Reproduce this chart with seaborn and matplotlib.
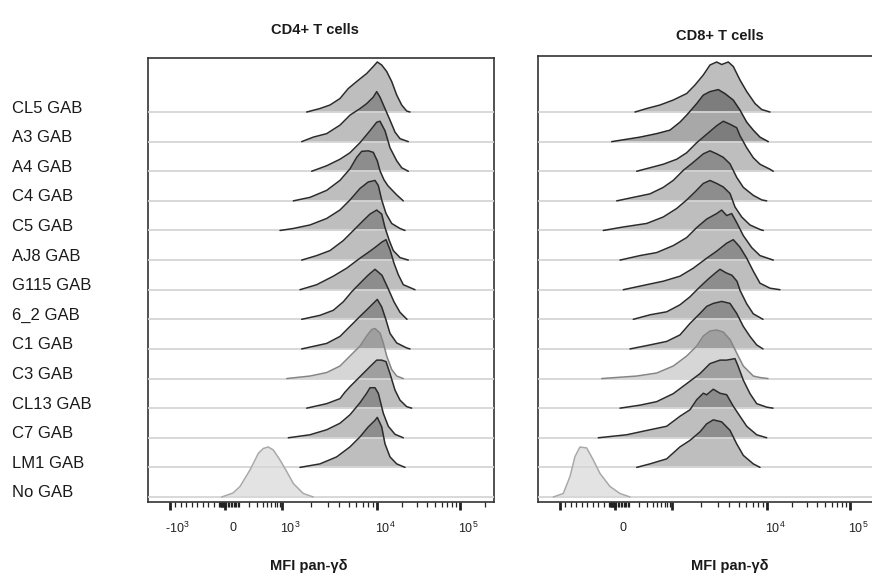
import numpy as np
import matplotlib
matplotlib.use("Agg")
import matplotlib.pyplot as plt
import matplotlib.transforms as mtransforms
import seaborn as sns

# ---------------- data ----------------
samples = ["CL5 GAB", "A3 GAB", "A4 GAB", "C4 GAB", "C5 GAB", "AJ8 GAB", "G115 GAB",
           "6_2 GAB", "C1 GAB", "C3 GAB", "CL13 GAB", "C7 GAB", "LM1 GAB", "No GAB"]
panel_titles = ["CD4+ T cells", "CD8+ T cells"]
x_title = "MFI pan-γδ"

major_tick_values = [-1000, 0, 1000, 10000, 100000]
cd4_tick_labels = [r"-$\mathregular{10^{3}}$", "0", r"$\mathregular{10^{3}}$",
                   r"$\mathregular{10^{4}}$", r"$\mathregular{10^{5}}$"]
cd8_tick_labels = ["", "0", "", r"$\mathregular{10^{4}}$", r"$\mathregular{10^{5}}$"]
minor_tick_values = ([-900, -800, -700, -600, -500, -400, -300, -200, -100]
                     + [-90, -80, -70, -60, -50, -40, -30, -20, -10]
                     + [10, 20, 30, 40, 50, 60, 70, 80, 90]
                     + [100, 200, 300, 400, 500, 600, 700, 800, 900]
                     + [2000, 3000, 4000, 5000, 6000, 7000, 8000, 9000]
                     + [20000, 30000, 40000, 50000, 60000, 70000, 80000, 90000, 200000])

# histogram outlines (display channel, % of mode), one list per sample, top row first
cd4_x = [
    [158.7, 172, 182, 192, 200.3, 208.7, 218.7, 225.3, 229.3, 233.7, 238.7, 243.7, 248.7, 253.7, 258.7, 262],
    [153.7, 165.3, 178.7, 192, 202, 212, 218.7, 225.3, 228.7, 232, 237, 242, 247, 252, 260.3],
    [163.7, 178.7, 192, 202, 212, 222, 228.7, 232, 237, 242, 248.7, 253.7, 260.3],
    [145.3, 162, 178.7, 192, 202, 208.7, 213.7, 220.3, 225.3, 229.3, 232, 236, 240, 248.7, 255.3],
    [132, 145.3, 162, 178.7, 192, 202, 212, 220.3, 227, 230.3, 233.7, 238, 243.7, 252, 257],
    [153.7, 168.7, 182, 195.3, 205.3, 215.3, 222, 228.7, 233.7, 237, 241.3, 245.3, 252, 260.3],
    [152, 168.7, 185.3, 198.7, 212, 222, 228.7, 233.7, 238, 242, 246, 250.3, 255.3, 267],
    [153.7, 172, 185.3, 195.3, 203.7, 212, 220, 227, 234, 240, 246, 252, 259],
    [153.7, 178.7, 192, 202, 212, 218.7, 225.3, 229.3, 233.7, 238, 242, 248.7, 258.7, 262],
    [138.7, 162, 178.7, 192, 202, 212, 218.7, 223.7, 227, 232, 235.3, 238.7, 243.7, 248.7, 255.3],
    [158.7, 178.7, 192, 197, 202, 212, 222, 228.7, 233.7, 238, 242, 247, 252, 258.7, 263.7],
    [140.3, 162, 178.7, 192, 202, 212, 218.7, 222, 227, 230.3, 235.3, 240.3, 247, 255.3],
    [152, 172, 188.7, 202, 212, 220.3, 227, 229.3, 233.7, 237, 242, 248.7, 257],
    [73.7, 85, 92, 102, 110.3, 115.3, 120.3, 125.3, 132, 138.7, 145.3, 155.3, 165.3],
]
cd4_h = [
    [0, 7, 14, 27, 47, 61, 77, 91, 100, 94, 81, 61, 34, 14, 2, 0],
    [0, 9, 16, 33, 53, 66, 76, 89, 100, 89, 66, 43, 19, 6, 0],
    [0, 11, 24, 37, 57, 81, 98, 100, 81, 47, 21, 7, 0],
    [0, 7, 21, 41, 64, 87, 99, 100, 97, 80, 60, 42, 30, 12, 0],
    [0, 4, 11, 24, 41, 61, 84, 97, 100, 90, 61, 34, 14, 4, 0],
    [0, 9, 19, 39, 59, 79, 92, 100, 92, 65, 39, 19, 5, 0],
    [0, 10, 27, 43, 63, 77, 87, 95, 100, 80, 53, 30, 10, 0],
    [0, 8, 18, 35, 55, 72, 88, 100, 88, 62, 35, 14, 0],
    [0, 11, 25, 45, 65, 78, 91, 99, 84, 58, 31, 12, 2, 0],
    [0, 5, 12, 25, 45, 65, 85, 98, 100, 91, 71, 45, 18, 5, 0],
    [0, 9, 19, 32, 43, 63, 83, 96, 96, 93, 69, 36, 16, 3, 0],
    [0, 6, 16, 29, 46, 70, 89, 100, 100, 89, 49, 23, 7, 0],
    [0, 7, 21, 41, 61, 81, 94, 100, 81, 47, 21, 7, 0],
    [0, 8, 21, 54, 87, 97, 100, 94, 74, 51, 27, 7, 0],
]
cd8_x = [
    [97, 108.7, 122, 135.3, 148.7, 157, 165.3, 172, 178.7, 183.7, 190.3, 195.3, 202, 208.7, 217, 223.7, 232],
    [73.7, 102, 118.7, 132, 142, 148.7, 158.7, 165.3, 172, 180.3, 187, 195.3, 202, 208.7, 215.3, 222, 230.3],
    [98.7, 112, 125.3, 138.7, 148.7, 158.7, 168.7, 178.7, 185.3, 192, 198.7, 202, 208.7, 215.3, 222, 232, 235.3],
    [78.7, 95.3, 112, 125.3, 135.3, 145.3, 155.3, 165.3, 172, 178.7, 185.3, 192, 198.7, 205.3, 215.3, 223.7, 228.7],
    [65.3, 85.3, 108.7, 125.3, 138.7, 148.7, 157, 165.3, 172, 178.7, 185.3, 192, 197, 203.7, 212, 222, 225.3],
    [82, 102, 118.7, 135.3, 148.7, 158.7, 168.7, 178.7, 183.7, 188.7, 193.7, 198.7, 205.3, 213.7, 222, 235.3],
    [85.3, 108.7, 125.3, 142, 155.3, 168.7, 178.7, 188.7, 195.3, 202, 208.7, 215.3, 222, 232, 242],
    [95.3, 112, 128.7, 142, 152, 162, 170, 177, 182, 188, 194, 199, 202, 208.7, 215.3, 225],
    [92, 112, 128.7, 142, 152, 162, 168.7, 175.3, 183.7, 192, 198.7, 205.3, 212, 218.7, 225],
    [63.7, 98.7, 118.7, 135.3, 148.7, 158.7, 165.3, 172, 178.7, 185.3, 192, 198.7, 205.3, 215.3, 222, 230],
    [82, 102, 118.7, 135.3, 148.7, 162, 172, 182, 188.7, 197, 200.3, 205.3, 212, 218.7, 228.7, 235],
    [60.3, 88.7, 112, 128.7, 142, 152, 158.7, 165.3, 168.7, 175.3, 182, 188.7, 195.3, 202, 208.7, 218.7, 228.7],
    [98.7, 112, 128.7, 142, 152, 162, 168.7, 175.3, 183.7, 192, 198.7, 205.3, 215.3, 222],
    [15.3, 25.3, 32, 37, 42, 48.7, 55.3, 62, 72, 82, 92],
]
cd8_h = [
    [0, 7, 14, 24, 37, 54, 74, 94, 100, 95, 100, 91, 64, 41, 17, 5, 0],
    [0, 9, 16, 23, 39, 53, 76, 93, 100, 104, 96, 83, 63, 39, 23, 9, 0],
    [0, 7, 14, 24, 37, 57, 74, 91, 100, 94, 87, 71, 47, 27, 14, 4, 0],
    [0, 7, 14, 27, 41, 61, 77, 94, 100, 94, 87, 74, 47, 27, 11, 2, 0],
    [0, 7, 14, 27, 44, 61, 77, 94, 100, 94, 87, 74, 47, 27, 11, 2, 0],
    [0, 9, 15, 29, 45, 65, 82, 93, 100, 89, 93, 75, 49, 25, 9, 0],
    [0, 10, 17, 27, 43, 63, 77, 93, 100, 85, 63, 37, 13, 3, 0],
    [0, 9, 15, 29, 45, 65, 80, 92, 100, 93, 88, 76, 58, 31, 11, 0],
    [0, 8, 15, 28, 51, 71, 85, 91, 95, 91, 71, 45, 25, 8, 0],
    [0, 5, 11, 25, 45, 65, 85, 95, 97, 93, 78, 51, 25, 5, 2, 0],
    [0, 6, 13, 29, 49, 69, 89, 96, 96, 99, 83, 56, 29, 9, 2, 0],
    [0, 6, 16, 23, 43, 56, 76, 89, 86, 97, 89, 86, 63, 43, 23, 6, 0],
    [0, 7, 17, 41, 54, 71, 87, 95, 91, 74, 47, 24, 7, 0],
    [0, 7, 41, 81, 100, 98, 74, 47, 21, 7, 0],
]
light_samples = ["C3 GAB"]
control_sample = "No GAB"
dark_samples_cd8 = ["A3 GAB"]


def to_channel(v):
    """Approximate FlowJo biexponential display scale -> display channel."""
    v = np.asarray(v, dtype=float)
    out = np.empty_like(v)
    neg = v <= 0
    mid = (v > 0) & (v <= 1000)
    hi = v > 1000
    out[neg] = 77 + 0.0553 * v[neg]
    out[mid] = 77 + 57.3 * np.arcsinh(v[mid] / 150) / np.arcsinh(1000 / 150)
    lv = np.log10(np.where(hi, v, 1000.0))
    out[hi] = np.interp(lv[hi], [3, 4, 5, 6], [134.3, 229.3, 312, 395])
    return out


# ---------------- style ----------------
sns.set_theme(style="white")
plt.rcParams["font.family"] = ["Liberation Sans", "DejaVu Sans"]
plt.rcParams["mathtext.fontset"] = "custom"
plt.rcParams["mathtext.rm"] = "Liberation Sans"
plt.rcParams["mathtext.it"] = "Liberation Sans:italic"
plt.rcParams["mathtext.bf"] = "Liberation Sans:bold"

W, H = 872, 575
fig = plt.figure(figsize=(W / 100, H / 100), dpi=100)
fig.patch.set_facecolor("white")


def px_axes(x0, y0, x1, y1):
    return fig.add_axes([x0 / W, 1 - y1 / H, (x1 - x0) / W, (y1 - y0) / H])


ROW = 59.2
n = len(samples)
ax1 = px_axes(148, 58, 494, 502)
ax2 = px_axes(538, 56, 884, 502)
axes_info = [(ax1, cd4_x, cd4_h, cd4_tick_labels, 108, []),
             (ax2, cd8_x, cd8_h, cd8_tick_labels, 112, dark_samples_cd8)]

for ax, xs_all, hs_all, tlabels, top_pad, dark in axes_info:
    for i, name in enumerate(samples):
        base = (n - 1 - i) * ROW
        xs = np.array(xs_all[i], dtype=float)
        ys = base + np.array(hs_all[i], dtype=float)
        if name == control_sample:
            alpha, ec = 0.11, "#a9a9a9"
        elif name in light_samples:
            alpha, ec = 0.16, "#858585"
        elif name in dark:
            alpha, ec = 0.34, "#262626"
        else:
            alpha, ec = 0.255, "#2b2b2b"
        ax.fill_between(xs, base, ys, color="black", alpha=alpha, lw=0, zorder=2)
        ax.axhline(base, color="#d6d6d6", lw=1.3, zorder=3)
        sns.lineplot(x=xs, y=ys, ax=ax, color=ec, lw=1.1, sort=False,
                     estimator=None, zorder=4)

    ax.set_xlim(0, 346)
    ax.set_ylim(-10, (n - 1) * ROW + top_pad)
    ax.set_yticks([])
    ax.set_xticks(to_channel(major_tick_values))
    ax.set_xticklabels([])
    ax.set_xticks(to_channel(minor_tick_values), minor=True)
    ax.tick_params(axis="x", which="major", direction="out", length=6, width=2.0,
                   color="#222222", bottom=True)
    ax.tick_params(axis="x", which="minor", direction="out", length=3.8, width=0.9,
                   color="#222222", bottom=True)
    for sp in ax.spines.values():
        sp.set_visible(True)
        sp.set_color("#333333")
        sp.set_linewidth(1.2)
    ax.set_xlabel("")
    ax.set_ylabel("")
    trans = mtransforms.blended_transform_factory(ax.transData, ax.transAxes) + \
        mtransforms.ScaledTranslation(8 / 100, -26 / 100, fig.dpi_scale_trans)
    for pos, lab in zip(to_channel(major_tick_values), tlabels):
        if lab:
            ax.text(pos, 0, lab, transform=trans, ha="center", va="center",
                    fontsize=9, color="#222222")

# row labels
lab_trans = mtransforms.blended_transform_factory(fig.transFigure, ax1.transData)
for i, name in enumerate(samples):
    base = (n - 1 - i) * ROW
    fig.text(12 / W, base + 8, name, transform=lab_trans, ha="left", va="center",
             fontsize=12, color="#1a1a1a")

# titles and axis titles
fig.text(315 / W, 1 - 30 / H, panel_titles[0], ha="center", va="center",
         fontsize=10.5, fontweight="bold", color="#1a1a1a")
fig.text(720 / W, 1 - 36 / H, panel_titles[1], ha="center", va="center",
         fontsize=10.5, fontweight="bold", color="#1a1a1a")
fig.text(309 / W, 1 - 566 / H, x_title, ha="center", va="center",
         fontsize=10.5, fontweight="bold", color="#1a1a1a")
fig.text(730 / W, 1 - 566 / H, x_title, ha="center", va="center",
         fontsize=10.5, fontweight="bold", color="#1a1a1a")

fig.savefig("out.png", dpi=100, facecolor="white")
